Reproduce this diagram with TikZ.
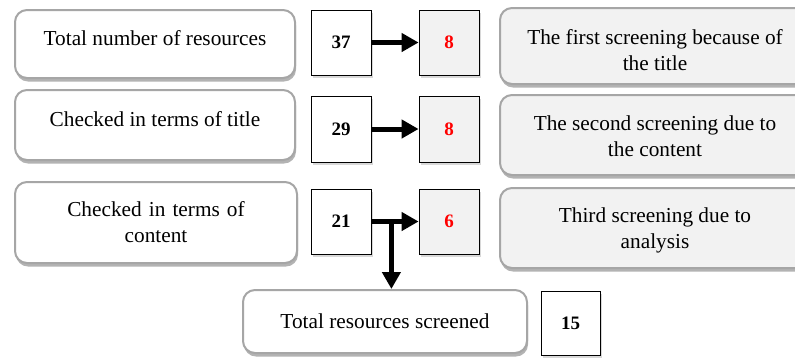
\documentclass[tikz,border=0pt]{standalone}
\usepackage{fontspec}
\setmainfont{Liberation Serif}
\usetikzlibrary{arrows.meta,shadows,calc}
\definecolor{boxgray}{HTML}{A6A6A6}
\definecolor{lightfill}{HTML}{F2F2F2}
\tikzset{
  txt/.style={font=\fontsize{21.3}{26}\selectfont, align=center},
  leftbox/.style={draw=boxgray, line width=2pt, rounded corners=12pt, fill=white,
    drop shadow={shadow xshift=1pt, shadow yshift=-3.5pt, fill=black!50, opacity=0.6},
    txt, inner sep=0pt},
  rightbox/.style={draw=boxgray, line width=2pt, rounded corners=12pt, fill=lightfill,
    drop shadow={shadow xshift=1pt, shadow yshift=-3.5pt, fill=black!50, opacity=0.6},
    txt, inner sep=0pt},
  numbox/.style={draw=black, line width=0.8pt, fill=white,
    drop shadow={shadow xshift=2pt, shadow yshift=-3pt, fill=black!30, opacity=0.5},
    font=\bfseries\fontsize{19}{22}\selectfont, inner sep=0pt},
  redbox/.style={numbox, fill=lightfill, text=red},
  flow/.style={line width=5pt, -{Triangle[length=17pt,width=18pt]}}
}
\begin{document}
\begin{tikzpicture}[x=1pt,y=-1pt]
\useasboundingbox (0,0) rectangle (795,360);
% left boxes
\node[leftbox, minimum width=280pt, minimum height=68pt] (L1) at (155,44) {};
\node[txt] (T1) at (155,38) {Total number of resources};
\node[leftbox, minimum width=280pt, minimum height=70pt] (L2) at (155,125) {};
\node[txt] (T2) at (155,119) {Checked in terms of title};
\node[leftbox, minimum width=282pt, minimum height=81pt, text width=260pt] (L3) at (156,222.5) {Checked in terms of\\content};
% number boxes
\node[numbox, minimum width=60pt, minimum height=65pt] (N1) at (341,42.5) {37};
\node[numbox, minimum width=60pt, minimum height=66pt] (N2) at (341,129) {29};
\node[numbox, minimum width=60pt, minimum height=65pt] (N3) at (341,221.5) {21};
\node[redbox, minimum width=60pt, minimum height=65pt] (R1) at (449,42.5) {8};
\node[redbox, minimum width=60pt, minimum height=66pt] (R2) at (449,129) {8};
\node[redbox, minimum width=60pt, minimum height=65pt] (R3) at (449,221.5) {6};
% right boxes
\node[rightbox, minimum width=310pt, minimum height=76pt] (S1) at (655,46) {};
\node[txt] (U1) at (655,50) {The first screening because of\\the title};
\node[rightbox, minimum width=310pt, minimum height=80pt] (S2) at (655,135) {};
\node[txt] (U2) at (655,136.5) {The second screening due to\\the content};
\node[rightbox, minimum width=310pt, minimum height=80pt] (S3) at (655,228) {};
\node[txt] (U3) at (655,230) {Third screening due to\\analysis};
% bottom
\node[leftbox, minimum width=284pt, minimum height=63pt] (B) at (385,321.5) {Total resources screened};
\node[numbox, minimum width=59pt, minimum height=64pt] (N4) at (570.5,323) {15};
% connectors
\draw[flow] (N1.east) -- (R1.west);
\draw[flow] (N2.east) -- (R2.west);
\draw[flow] (N3.east) -- (R3.west);
\coordinate (J) at ($(N3.east)+(20,0)$);
\draw[flow] ($(J)+(0,-2.5)$) -- (J |- B.north);
\end{tikzpicture}
\end{document}
